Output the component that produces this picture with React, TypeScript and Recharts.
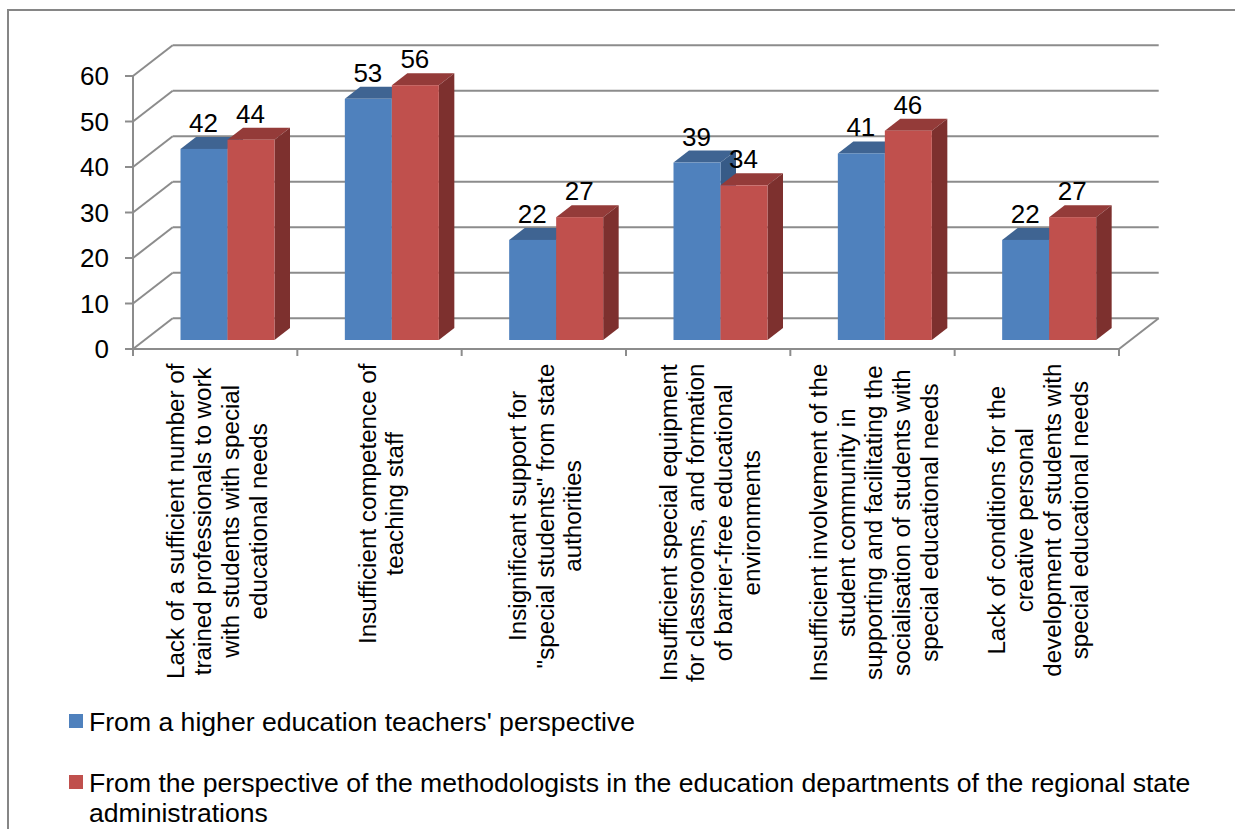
import React from 'react';
import { BarChart, Bar, XAxis, YAxis, CartesianGrid, Legend, LabelList } from 'recharts';

const categories = [
  'Lack of a sufficient number of\ntrained professionals to work\nwith students with special\neducational needs',
  'Insufficient competence of\nteaching staff',
  'Insignificant support for\n"special students" from state\nauthorities',
  'Insufficient special equipment\nfor classrooms, and formation\nof barrier-free educational\nenvironments',
  'Insufficient involvement of the\nstudent community in\nsupporting and facilitating the\nsocialisation of students with\nspecial educational needs',
  'Lack of conditions for the\ncreative personal\ndevelopment of students with\nspecial educational needs',
];
const teachers = [42, 53, 22, 39, 41, 22];
const methodologists = [44, 56, 27, 34, 46, 27];
const yTicks = [0, 10, 20, 30, 40, 50, 60];

const teachersName = "From a higher education teachers' perspective";
const methodologistsName =
  'From the perspective of the methodologists in the education departments of the regional state administrations';

const data = categories.map((name, i) => ({
  name,
  teachers: teachers[i],
  methodologists: methodologists[i],
}));

const FONT = '"Liberation Sans", Arial, sans-serif';
const AXIS_FONT_SIZE = 24.2;
const VALUE_FONT_SIZE = 26;
const LEGEND_FONT_SIZE = 26.6;
const LINE_COLOR = '#8c8c8c';
const BLUE = { front: '#4f81bd', top: '#3f6492', side: '#375b87' };
const RED = { front: '#c0504d', top: '#943b39', side: '#7d302e' };

// fake 3D offsets
const WALL_DX = 39.7;
const WALL_DY = 30.7;
const BAR_SHIFT_X = 12.5;
const BAR_SHIFT_Y = 9;
const DEPTH_X = 15.5;
const DEPTH_Y = 12;

const textWidth = (s: string) => {
  const ctx = document.createElement('canvas').getContext('2d');
  if (!ctx) return s.length * AXIS_FONT_SIZE * 0.48;
  ctx.font = `${AXIS_FONT_SIZE}px "Liberation Sans"`;
  return ctx.measureText(s).width;
};

const WallLine = (props: any) => {
  const { x1, x2, y1, y, height } = props;
  const isFloor = Math.abs(y1 - (y + height)) < 0.5;
  const by = y1 - WALL_DY;
  return (
    <g stroke={LINE_COLOR} strokeWidth={2} fill="none">
      <line x1={x1} y1={y1} x2={x1 + WALL_DX} y2={by} />
      <line x1={x1 + WALL_DX} y1={by} x2={x2 + WALL_DX} y2={by} />
      {isFloor && <line x1={x2} y1={y1} x2={x2 + WALL_DX} y2={by} />}
    </g>
  );
};

const YTick = (props: any) => {
  const { x, y, payload } = props;
  return (
    <g>
      <line x1={x - 8} y1={y} x2={x} y2={y} stroke={LINE_COLOR} strokeWidth={2} />
      <text x={x - 24} y={y} dy="0.35em" textAnchor="end" fontSize={VALUE_FONT_SIZE} fontFamily={FONT} fill="#000">
        {payload.value}
      </text>
    </g>
  );
};

const XTick = (props: any) => {
  const { x, y, payload, index, width } = props;
  const band = width / categories.length;
  const lines: string[] = String(payload.value).split('\n');
  const longest = Math.max(...lines.map(textWidth));
  const cy = y + 14.5 + longest / 2;
  return (
    <g>
      <line x1={x - band / 2} y1={y} x2={x - band / 2} y2={y + 7} stroke={LINE_COLOR} strokeWidth={2} />
      {index === categories.length - 1 && (
        <line x1={x + band / 2} y1={y} x2={x + band / 2} y2={y + 7} stroke={LINE_COLOR} strokeWidth={2} />
      )}
      {lines.map((line, i) => {
        const lx = x + 1.5 + (i - (lines.length - 1) / 2) * 27.7;
        return (
          <text
            key={i}
            x={lx}
            y={cy}
            dy="0.35em"
            textAnchor="middle"
            transform={`rotate(-90 ${lx} ${cy})`}
            fontSize={AXIS_FONT_SIZE}
            fontFamily={FONT}
            fill="#000"
          >
            {line}
          </text>
        );
      })}
    </g>
  );
};

const makeBox = (c: { front: string; top: string; side: string }) => (props: any) => {
  const { x, y, width, height } = props;
  const l = x + BAR_SHIFT_X;
  const r = l + width;
  const t = y - BAR_SHIFT_Y;
  const b = t + height;
  return (
    <g>
      <polygon points={`${l},${t} ${l + DEPTH_X},${t - DEPTH_Y} ${r + DEPTH_X},${t - DEPTH_Y} ${r},${t}`} fill={c.top} />
      <polygon points={`${r},${t} ${r + DEPTH_X},${t - DEPTH_Y} ${r + DEPTH_X},${b - DEPTH_Y} ${r},${b}`} fill={c.side} />
      <rect x={l} y={t} width={width} height={height} fill={c.front} />
    </g>
  );
};

const LegendBlock = (props: any) => (
  <div style={{ fontFamily: FONT, fontSize: LEGEND_FONT_SIZE, lineHeight: '30px', color: '#000' }}>
    {(props.payload || []).map((entry: any, i: number) => (
      <div key={entry.value} style={{ position: 'absolute', left: 0, top: i * 61, width: 1115, paddingLeft: 20 }}>
        <span
          style={{ position: 'absolute', left: 0, top: 7, width: 14, height: 14, background: entry.color }}
        />
        {entry.value}
      </div>
    ))}
  </div>
);

export default function App() {
  return (
    <div style={{ position: 'absolute', left: 0, top: 0, width: 1235, height: 829, overflow: 'hidden', background: '#fff' }}>
      <div
        style={{
          position: 'absolute',
          left: 7,
          top: 9,
          width: 1300,
          height: 900,
          borderTop: '2px solid #868686',
          borderLeft: '2px solid #868686',
          boxSizing: 'border-box',
        }}
      />
      <div style={{ position: 'absolute', left: 0, top: 0 }}>
        <BarChart
          width={1235}
          height={829}
          data={data}
          margin={{ top: 76, right: 116, bottom: 430, left: 73 }}
          barCategoryGap="21.3%"
          barGap={0}
        >
          <CartesianGrid vertical={false} horizontal={(p: any) => <WallLine key={p.index} {...p} />} />
          <XAxis
            dataKey="name"
            interval={0}
            height={50}
            tickSize={0}
            tickMargin={0}
            tickLine={false}
            axisLine={{ stroke: LINE_COLOR, strokeWidth: 2 }}
            tick={(p: any) => <XTick {...p} />}
          />
          <YAxis
            width={60}
            domain={[0, 60]}
            ticks={yTicks}
            tickSize={0}
            tickMargin={0}
            tickLine={false}
            axisLine={{ stroke: LINE_COLOR, strokeWidth: 2 }}
            tick={(p: any) => <YTick {...p} />}
          />
          <Legend
            layout="vertical"
            align="center"
            verticalAlign="middle"
            content={<LegendBlock />}
            wrapperStyle={{ position: 'absolute', left: 69, top: 707, width: 1130, height: 120, transform: 'none' }}
          />
          <Bar dataKey="teachers" name={teachersName} fill={BLUE.front} shape={makeBox(BLUE)} isAnimationActive={false}>
            <LabelList dataKey="teachers" position="top" offset={26} dx={12} fontSize={VALUE_FONT_SIZE} fontFamily={FONT} fill="#000" />
          </Bar>
          <Bar dataKey="methodologists" name={methodologistsName} fill={RED.front} shape={makeBox(RED)} isAnimationActive={false}>
            <LabelList dataKey="methodologists" position="top" offset={26} dx={12} fontSize={VALUE_FONT_SIZE} fontFamily={FONT} fill="#000" />
          </Bar>
        </BarChart>
      </div>
    </div>
  );
}
